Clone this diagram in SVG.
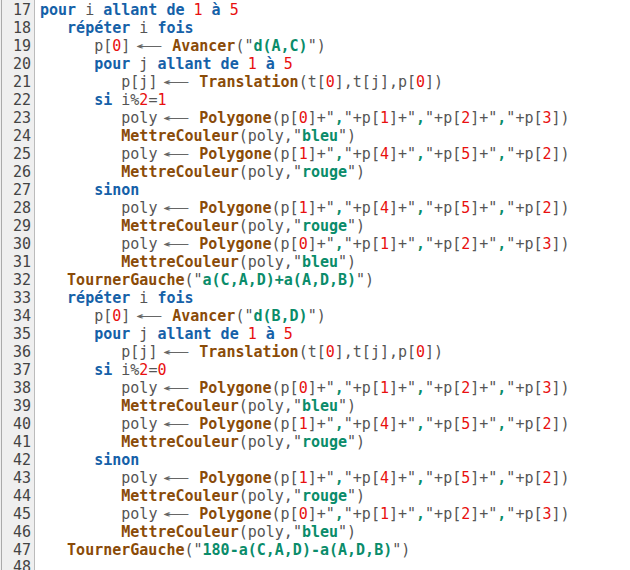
<svg xmlns="http://www.w3.org/2000/svg" width="630" height="570" viewBox="0 0 630 570">
<style>
text{font-family:"DejaVu Sans Mono","Liberation Mono",monospace;font-size:15px;fill:#555}
.ln{fill:#444;text-anchor:end}
.k{fill:#1561a8;font-weight:bold}
.f{fill:#8a4b08;font-weight:bold}
.s{fill:#0a8c6a;font-weight:bold}
.n{fill:#e8100f}
.ar{fill:#666;font-size:13px}
</style>
<rect width="630" height="570" fill="#fff"/>
<g id="gutter">
<rect x="0" y="0" width="35" height="570" fill="#efefef"/>
<line x1="1.5" y1="0" x2="1.5" y2="570" stroke="#aaa"/>
<line x1="34.5" y1="0" x2="34.5" y2="570" stroke="#bbb"/>
<text class="ln" x="31" y="15">17</text><text class="ln" x="31" y="33">18</text><text class="ln" x="31" y="51">19</text><text class="ln" x="31" y="69">20</text><text class="ln" x="31" y="87">21</text><text class="ln" x="31" y="105">22</text><text class="ln" x="31" y="123">23</text><text class="ln" x="31" y="141">24</text><text class="ln" x="31" y="159">25</text><text class="ln" x="31" y="177">26</text><text class="ln" x="31" y="195">27</text><text class="ln" x="31" y="213">28</text><text class="ln" x="31" y="231">29</text><text class="ln" x="31" y="249">30</text><text class="ln" x="31" y="267">31</text><text class="ln" x="31" y="285">32</text><text class="ln" x="31" y="303">33</text><text class="ln" x="31" y="321">34</text><text class="ln" x="31" y="339">35</text><text class="ln" x="31" y="357">36</text><text class="ln" x="31" y="375">37</text><text class="ln" x="31" y="393">38</text><text class="ln" x="31" y="411">39</text><text class="ln" x="31" y="429">40</text><text class="ln" x="31" y="447">41</text><text class="ln" x="31" y="465">42</text><text class="ln" x="31" y="483">43</text><text class="ln" x="31" y="501">44</text><text class="ln" x="31" y="519">45</text><text class="ln" x="31" y="537">46</text><text class="ln" x="31" y="555">47</text><text class="ln" x="31" y="572">48</text>
</g>
<g id="code" xml:space="preserve">
<text x="40" y="15"><tspan class="k">pour</tspan> i <tspan class="k">allant de</tspan> <tspan class="n">1</tspan> <tspan class="k">à</tspan> <tspan class="n">5</tspan></text>
<text x="67.1" y="33"><tspan class="k">répéter</tspan> i <tspan class="k">fois</tspan></text>
<text x="94.2" y="51">p[<tspan class="n">0</tspan>]</text><text class="ar" x="139.2" y="50" textLength="21" lengthAdjust="spacingAndGlyphs">⟵</text><text x="172.2" y="51"><tspan class="f">Avancer</tspan>("<tspan class="s">d(A,C)</tspan>")</text>
<text x="94.2" y="69"><tspan class="k">pour</tspan> j <tspan class="k">allant de</tspan> <tspan class="n">1</tspan> <tspan class="k">à</tspan> <tspan class="n">5</tspan></text>
<text x="121.3" y="87">p[j]</text><text class="ar" x="166.3" y="86" textLength="21" lengthAdjust="spacingAndGlyphs">⟵</text><text x="199.3" y="87"><tspan class="f">Translation</tspan>(t[<tspan class="n">0</tspan>],t[j],p[<tspan class="n">0</tspan>])</text>
<text x="94.2" y="105"><tspan class="k">si</tspan> i%<tspan class="n">2</tspan>=<tspan class="n">1</tspan></text>
<text x="121.3" y="123">poly</text><text class="ar" x="166.3" y="122" textLength="21" lengthAdjust="spacingAndGlyphs">⟵</text><text x="199.3" y="123"><tspan class="f">Polygone</tspan>(p[<tspan class="n">0</tspan>]+"<tspan class="s">,</tspan>"+p[<tspan class="n">1</tspan>]+"<tspan class="s">,</tspan>"+p[<tspan class="n">2</tspan>]+"<tspan class="s">,</tspan>"+p[<tspan class="n">3</tspan>])</text>
<text x="121.3" y="141"><tspan class="f">MettreCouleur</tspan>(poly,"<tspan class="s">bleu</tspan>")</text>
<text x="121.3" y="159">poly</text><text class="ar" x="166.3" y="158" textLength="21" lengthAdjust="spacingAndGlyphs">⟵</text><text x="199.3" y="159"><tspan class="f">Polygone</tspan>(p[<tspan class="n">1</tspan>]+"<tspan class="s">,</tspan>"+p[<tspan class="n">4</tspan>]+"<tspan class="s">,</tspan>"+p[<tspan class="n">5</tspan>]+"<tspan class="s">,</tspan>"+p[<tspan class="n">2</tspan>])</text>
<text x="121.3" y="177"><tspan class="f">MettreCouleur</tspan>(poly,"<tspan class="s">rouge</tspan>")</text>
<text x="94.2" y="195"><tspan class="k">sinon</tspan></text>
<text x="121.3" y="213">poly</text><text class="ar" x="166.3" y="212" textLength="21" lengthAdjust="spacingAndGlyphs">⟵</text><text x="199.3" y="213"><tspan class="f">Polygone</tspan>(p[<tspan class="n">1</tspan>]+"<tspan class="s">,</tspan>"+p[<tspan class="n">4</tspan>]+"<tspan class="s">,</tspan>"+p[<tspan class="n">5</tspan>]+"<tspan class="s">,</tspan>"+p[<tspan class="n">2</tspan>])</text>
<text x="121.3" y="231"><tspan class="f">MettreCouleur</tspan>(poly,"<tspan class="s">rouge</tspan>")</text>
<text x="121.3" y="249">poly</text><text class="ar" x="166.3" y="248" textLength="21" lengthAdjust="spacingAndGlyphs">⟵</text><text x="199.3" y="249"><tspan class="f">Polygone</tspan>(p[<tspan class="n">0</tspan>]+"<tspan class="s">,</tspan>"+p[<tspan class="n">1</tspan>]+"<tspan class="s">,</tspan>"+p[<tspan class="n">2</tspan>]+"<tspan class="s">,</tspan>"+p[<tspan class="n">3</tspan>])</text>
<text x="121.3" y="267"><tspan class="f">MettreCouleur</tspan>(poly,"<tspan class="s">bleu</tspan>")</text>
<text x="67.1" y="285"><tspan class="f">TournerGauche</tspan>("<tspan class="s">a(C,A,D)+a(A,D,B)</tspan>")</text>
<text x="67.1" y="303"><tspan class="k">répéter</tspan> i <tspan class="k">fois</tspan></text>
<text x="94.2" y="321">p[<tspan class="n">0</tspan>]</text><text class="ar" x="139.2" y="320" textLength="21" lengthAdjust="spacingAndGlyphs">⟵</text><text x="172.2" y="321"><tspan class="f">Avancer</tspan>("<tspan class="s">d(B,D)</tspan>")</text>
<text x="94.2" y="339"><tspan class="k">pour</tspan> j <tspan class="k">allant de</tspan> <tspan class="n">1</tspan> <tspan class="k">à</tspan> <tspan class="n">5</tspan></text>
<text x="121.3" y="357">p[j]</text><text class="ar" x="166.3" y="356" textLength="21" lengthAdjust="spacingAndGlyphs">⟵</text><text x="199.3" y="357"><tspan class="f">Translation</tspan>(t[<tspan class="n">0</tspan>],t[j],p[<tspan class="n">0</tspan>])</text>
<text x="94.2" y="375"><tspan class="k">si</tspan> i%<tspan class="n">2</tspan>=<tspan class="n">0</tspan></text>
<text x="121.3" y="393">poly</text><text class="ar" x="166.3" y="392" textLength="21" lengthAdjust="spacingAndGlyphs">⟵</text><text x="199.3" y="393"><tspan class="f">Polygone</tspan>(p[<tspan class="n">0</tspan>]+"<tspan class="s">,</tspan>"+p[<tspan class="n">1</tspan>]+"<tspan class="s">,</tspan>"+p[<tspan class="n">2</tspan>]+"<tspan class="s">,</tspan>"+p[<tspan class="n">3</tspan>])</text>
<text x="121.3" y="411"><tspan class="f">MettreCouleur</tspan>(poly,"<tspan class="s">bleu</tspan>")</text>
<text x="121.3" y="429">poly</text><text class="ar" x="166.3" y="428" textLength="21" lengthAdjust="spacingAndGlyphs">⟵</text><text x="199.3" y="429"><tspan class="f">Polygone</tspan>(p[<tspan class="n">1</tspan>]+"<tspan class="s">,</tspan>"+p[<tspan class="n">4</tspan>]+"<tspan class="s">,</tspan>"+p[<tspan class="n">5</tspan>]+"<tspan class="s">,</tspan>"+p[<tspan class="n">2</tspan>])</text>
<text x="121.3" y="447"><tspan class="f">MettreCouleur</tspan>(poly,"<tspan class="s">rouge</tspan>")</text>
<text x="94.2" y="465"><tspan class="k">sinon</tspan></text>
<text x="121.3" y="483">poly</text><text class="ar" x="166.3" y="482" textLength="21" lengthAdjust="spacingAndGlyphs">⟵</text><text x="199.3" y="483"><tspan class="f">Polygone</tspan>(p[<tspan class="n">1</tspan>]+"<tspan class="s">,</tspan>"+p[<tspan class="n">4</tspan>]+"<tspan class="s">,</tspan>"+p[<tspan class="n">5</tspan>]+"<tspan class="s">,</tspan>"+p[<tspan class="n">2</tspan>])</text>
<text x="121.3" y="501"><tspan class="f">MettreCouleur</tspan>(poly,"<tspan class="s">rouge</tspan>")</text>
<text x="121.3" y="519">poly</text><text class="ar" x="166.3" y="518" textLength="21" lengthAdjust="spacingAndGlyphs">⟵</text><text x="199.3" y="519"><tspan class="f">Polygone</tspan>(p[<tspan class="n">0</tspan>]+"<tspan class="s">,</tspan>"+p[<tspan class="n">1</tspan>]+"<tspan class="s">,</tspan>"+p[<tspan class="n">2</tspan>]+"<tspan class="s">,</tspan>"+p[<tspan class="n">3</tspan>])</text>
<text x="121.3" y="537"><tspan class="f">MettreCouleur</tspan>(poly,"<tspan class="s">bleu</tspan>")</text>
<text x="67.1" y="555"><tspan class="f">TournerGauche</tspan>("<tspan class="s">180-a(C,A,D)-a(A,D,B)</tspan>")</text>
</g>
</svg>
